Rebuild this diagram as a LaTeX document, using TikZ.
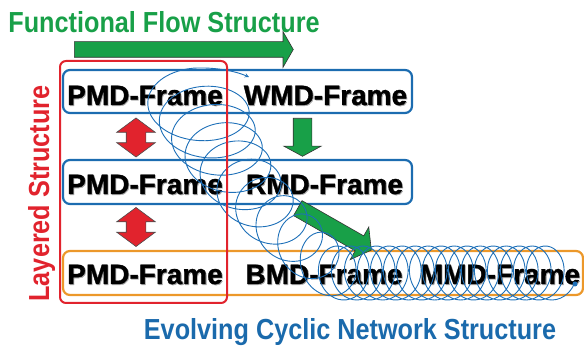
\documentclass[tikz,border=0pt]{standalone}
\usepackage{fontspec}
\setmainfont{Liberation Sans}
\newfontfamily\framefont{Liberation Sans}[BoldFeatures={FakeBold=1.2}]
\usepackage{tikz}
\usetikzlibrary{shapes,shapes.arrows,positioning,arrows}

\definecolor{flowgreen}{RGB}{24,160,72}
\definecolor{layerred}{RGB}{225,35,45}
\definecolor{boxblue}{RGB}{28,108,176}
\definecolor{boxorange}{RGB}{236,152,42}
\definecolor{spiralblue}{RGB}{30,112,184}
\definecolor{evolveblue}{RGB}{26,106,172}

\newcommand{\shadowtext}[1]{\makebox[0pt][l]{\hspace{0.9pt}\raisebox{-0.9pt}{\color{black!35}#1}}#1}

\begin{document}
\begin{tikzpicture}[x=1pt, y=-1pt, >=stealth,
  framebox/.style={draw=boxblue, line width=2.2pt, rounded corners=7pt, inner sep=0pt},
  framelabel/.style={anchor=base, inner sep=0pt, font=\framefont\bfseries\fontsize{28}{30}\selectfont},
  headline/.style={anchor=base, inner sep=0pt, xscale=0.87, font=\bfseries\fontsize{29}{31}\selectfont},
  greenarrow/.style={single arrow, fill=flowgreen, draw=black!80, line width=0.6pt, inner sep=0pt,
      text depth=0pt, anchor=tail},
  redarrow/.style={double arrow, fill=layerred, draw=black!70, line width=0.6pt, inner sep=0pt,
      text height=19pt, text depth=0pt, minimum height=39pt, double arrow head extend=9.5pt,
      double arrow tip angle=107, rotate=90},
  spiral/.style={draw=spiralblue, line width=0.9pt}]
  \useasboundingbox (0,0) rectangle (584,347);

  % frame rows
  \node[framebox, minimum width=349pt, minimum height=43pt] (toprow) at (237.5,91.5) {};
  \node[framebox, minimum width=349pt, minimum height=44pt] (midrow) at (237.5,182) {};
  \node[framebox, draw=boxorange, minimum width=520pt, minimum height=44pt] (botrow) at (323,273) {};

  % headlines
  \node[headline, text=flowgreen] (flowtitle) at (164,33) {Functional Flow Structure};
  \node[headline, text=evolveblue] (evolvetitle) at (350,340) {Evolving Cyclic Network Structure};
  \node[rotate=90, headline, text=layerred] (layertitle) at (49,193.5) {Layered Structure};

  % arrows
  \node[greenarrow, text height=15pt, minimum height=219pt, single arrow head extend=10pt,
      single arrow tip angle=120] (flowarrow) at (74,49.5) {};
  \node[greenarrow, rotate=-90, text height=18pt, minimum height=38pt, single arrow head extend=9.5pt,
      single arrow tip angle=123] (downarrow) at (302.5,118) {};
  \node[greenarrow, rotate=-29.7, text height=16.6pt, minimum height=84.7pt, single arrow head extend=10.2pt,
      single arrow tip angle=108] (slantarrow) at (297.5,208) {};
  \node[redarrow] (uparrow) at (136,137.5) {};
  \node[redarrow] (lowarrow) at (136,227) {};

  % frame labels
  \node[framelabel] (pmdtop) at (145,105) {\shadowtext{PMD-Frame}};
  \node[framelabel] (pmdmid) at (145,194) {\shadowtext{PMD-Frame}};
  \node[framelabel] (pmdbot) at (145,284) {\shadowtext{PMD-Frame}};
  \node[framelabel] (wmd) at (325.5,105) {\shadowtext{WMD-Frame}};
  \node[framelabel] (rmd) at (324.5,194) {\shadowtext{RMD-Frame}};
  \node[framelabel] (bmd) at (324,284) {\shadowtext{BMD-Frame}};
  \node[framelabel] (mmd) at (500,284) {\shadowtext{MMD-Frame}};

  % cyclic spiral
  \coordinate (spiralstart) at (575,284);
  \coordinate (spiralend) at (249,77);
  \draw[spiral, ->] plot[smooth, domain=0.055:17, samples=620, variable=\k]
      ({555-13*\k+22*cos(360*\k)}, {273+27*sin(360*\k)})
    -- plot[smooth, domain=17:26.75, samples=360, variable=\k]
      ({334-14.26*(\k-17)-18*sin(18.46*(\k-17))+(22+2.87*(\k-17))*cos(360*\k)},
       {273-17.74*(\k-17)+(27+0.51*(\k-17))*sin(360*\k)})
    .. controls (215,67) and (235,71) .. (spiralend);
  \fill[spiralblue] (spiralstart) circle (2.5pt);

  % layered box on top
  \node[framebox, draw=layerred, line width=2pt, rounded corners=6pt, minimum width=167pt,
      minimum height=242pt] (layerbox) at (143.5,182) {};
\end{tikzpicture}
\end{document}
